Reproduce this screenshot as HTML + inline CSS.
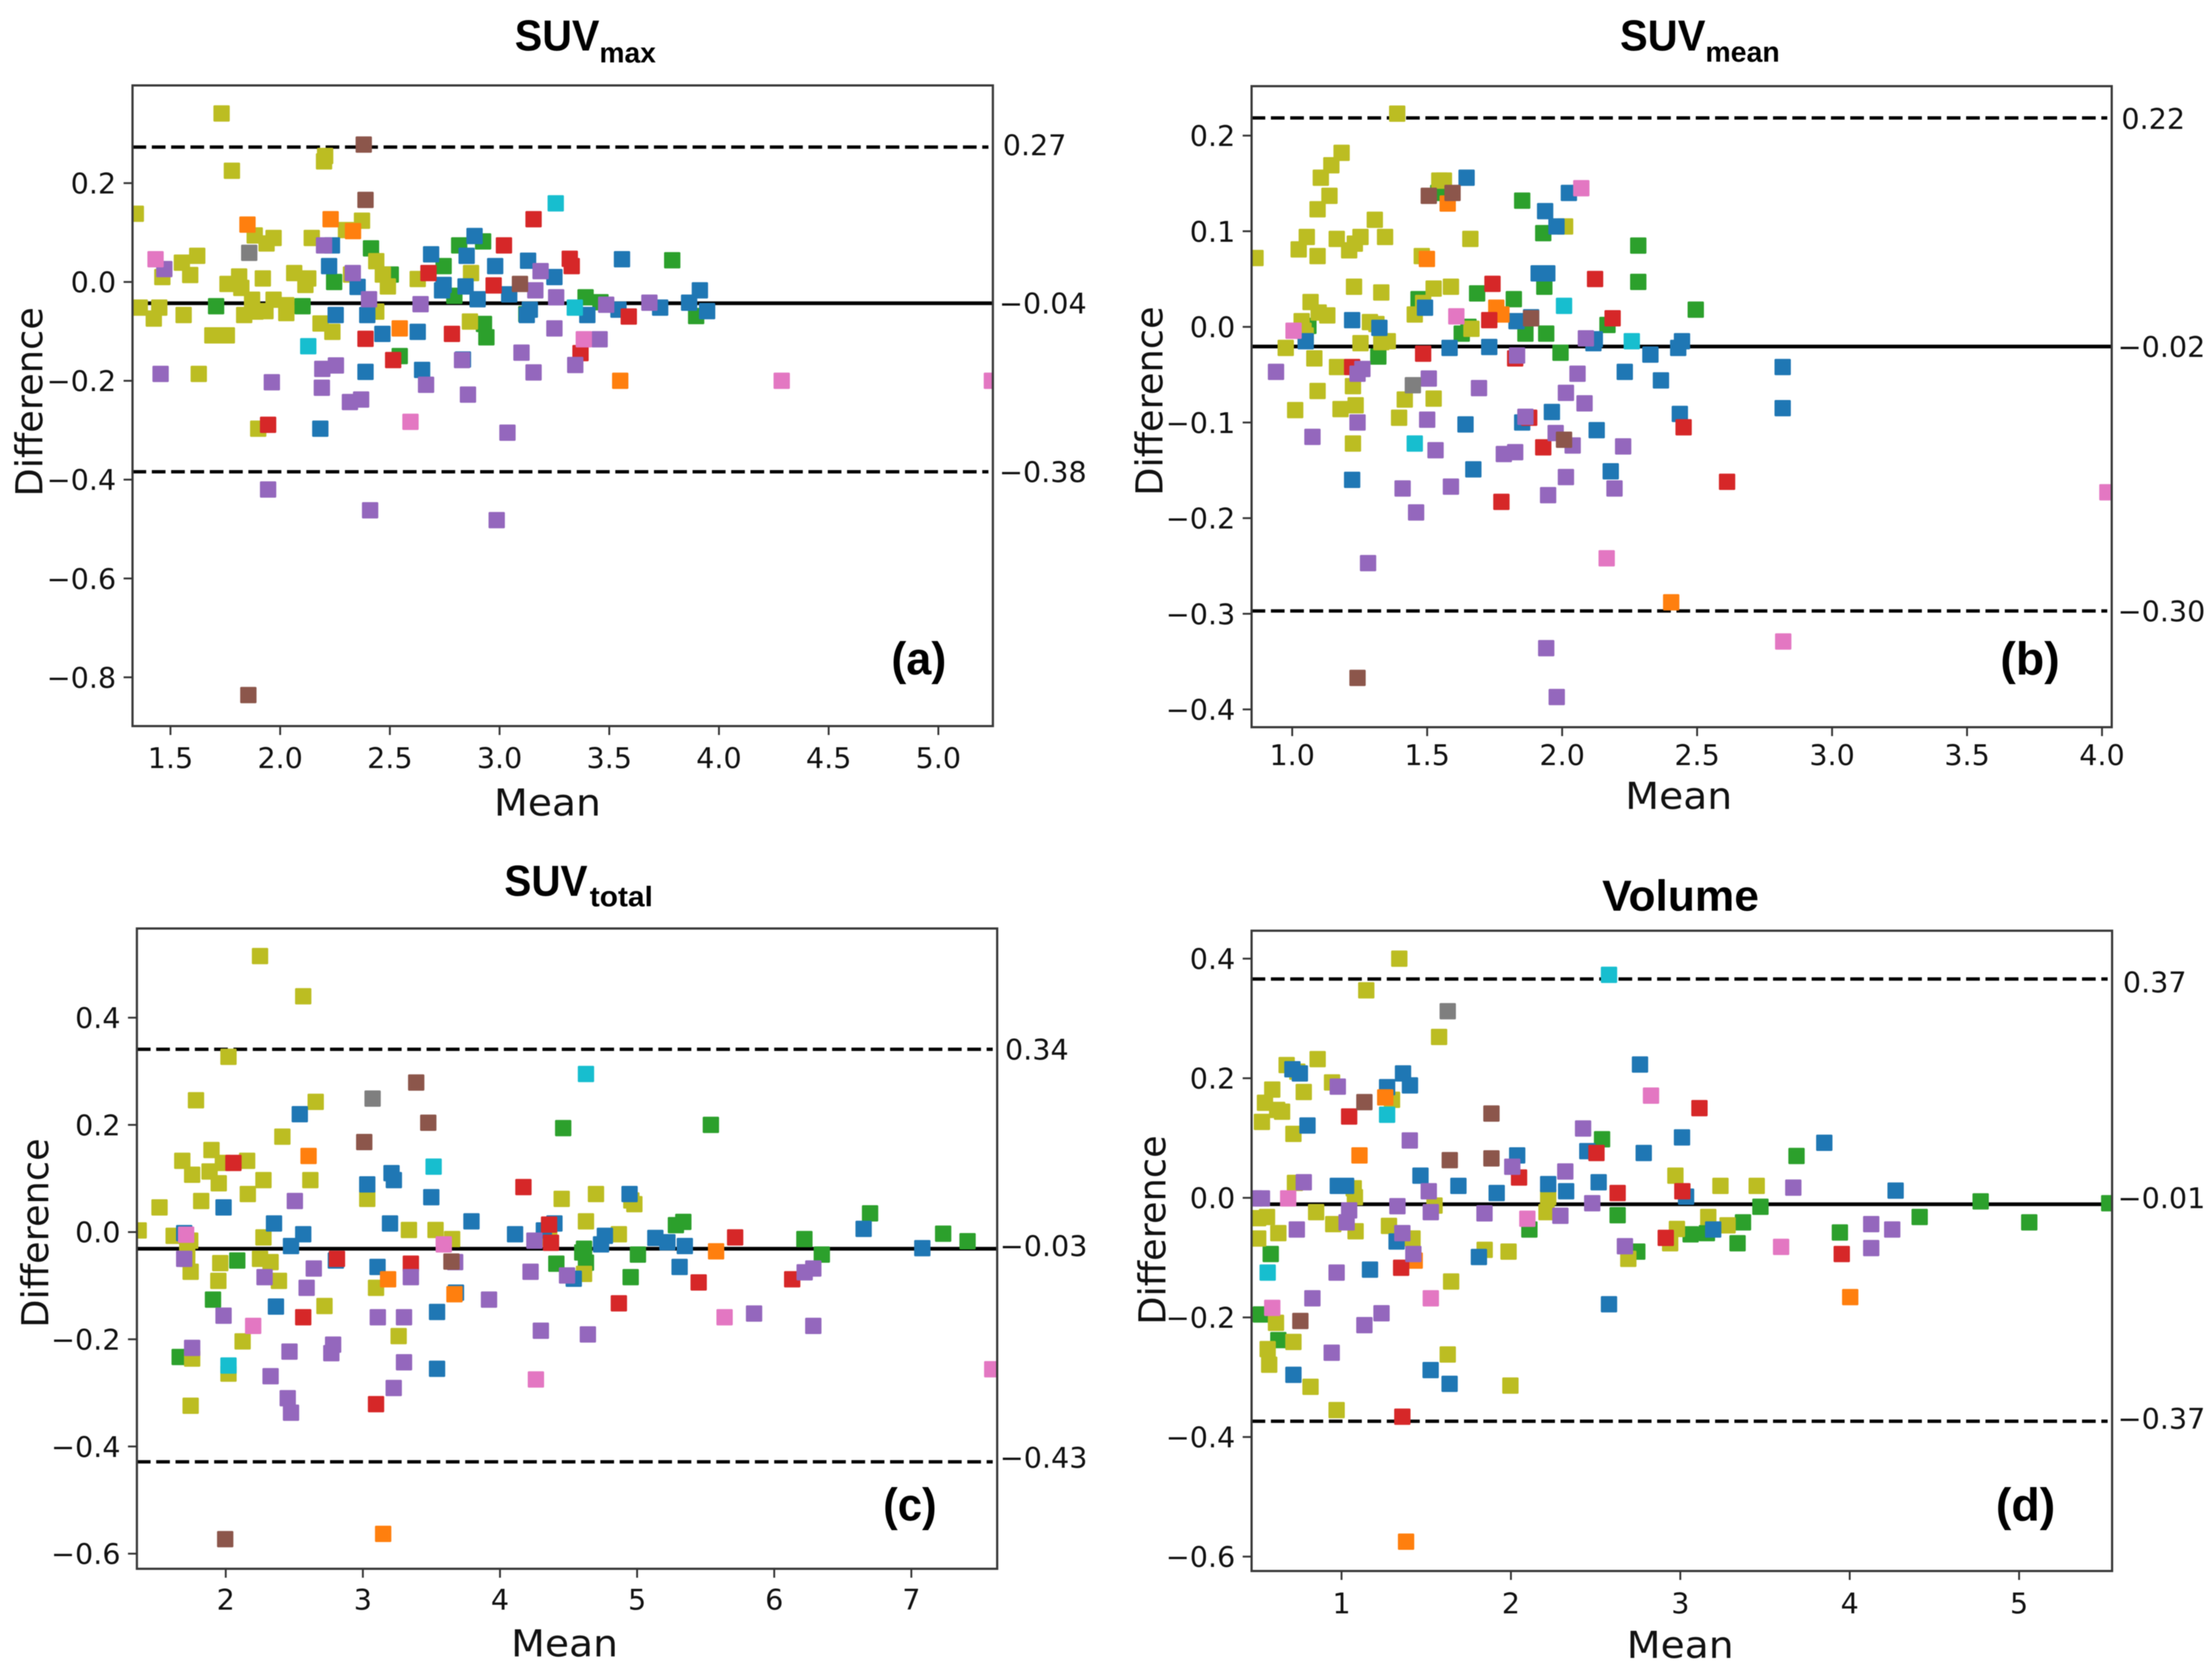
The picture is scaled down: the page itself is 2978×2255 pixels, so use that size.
<!DOCTYPE html>
<html lang="en">
<head>
<meta charset="utf-8">
<title>Bland-Altman plots</title>
<style>
html,body{margin:0;padding:0;background:#fff;width:2978px;height:2255px;overflow:hidden}
svg{display:block;filter:blur(.6px)}
.tick{font:38.5px "DejaVu Sans",sans-serif;fill:#111}
.axis{font:50px "DejaVu Sans",sans-serif;fill:#111}
.ttl{font-family:"Liberation Sans",sans-serif;font-weight:700;fill:#000}
</style>
</head>
<body>
<svg id="figure" xmlns="http://www.w3.org/2000/svg" width="2978" height="2255" viewBox="0 0 2978 2255">
<rect width="2978" height="2255" fill="#fff"/>

<text class="ttl" x="693" y="68" font-size="58" textLength="114" lengthAdjust="spacingAndGlyphs">SUV</text>
<text class="ttl" x="807" y="84" font-size="38" textLength="76" lengthAdjust="spacingAndGlyphs">max</text>
<text class="ttl" x="2181" y="68" font-size="58" textLength="115" lengthAdjust="spacingAndGlyphs">SUV</text>
<text class="ttl" x="2296" y="83" font-size="38" textLength="100" lengthAdjust="spacingAndGlyphs">mean</text>
<text class="ttl" x="679" y="1206" font-size="58" textLength="112" lengthAdjust="spacingAndGlyphs">SUV</text>
<text class="ttl" x="794" y="1220" font-size="38" textLength="85" lengthAdjust="spacingAndGlyphs">total</text>
<text class="ttl" x="2157" y="1226" font-size="58" textLength="211" lengthAdjust="spacingAndGlyphs">Volume</text>

<g id="plots"></g>

<text class="ttl" x="1200" y="908" font-size="62" textLength="74" lengthAdjust="spacingAndGlyphs">(a)</text>
<text class="ttl" x="2693" y="908" font-size="62" textLength="80" lengthAdjust="spacingAndGlyphs">(b)</text>
<text class="ttl" x="1189" y="2047" font-size="62" textLength="72" lengthAdjust="spacingAndGlyphs">(c)</text>
<text class="ttl" x="2687" y="2047" font-size="62" textLength="80" lengthAdjust="spacingAndGlyphs">(d)</text>
</svg>

<script>
// ---------- Panel A: SUVmax ----------
const aXTicks=['1.5','2.0','2.5','3.0','3.5','4.0','4.5','5.0'];
const aYTicks=['−0.8','−0.6','−0.4','−0.2','0.0','0.2'];
const aXLim=[1.327,5.2485];
const aYLim=[-0.8987,0.3977];
const aLimits=[0.273,-0.043,-0.384];
const aLimitLabels=['0.27','−0.04','−0.38'];
const aGreen=[[1.708,-0.049],[2.102,-0.049],[2.414,0.068],[2.246,0],[2.745,0.032],[2.816,0.074],[2.925,0.082],[2.504,0.015],[2.794,-0.028],[3.122,-0.065],[2.929,-0.085],[2.94,-0.112],[2.545,-0.15],[3.392,-0.031],[3.46,-0.041],[3.787,0.044],[3.896,-0.069]];
const aOlive=[[1.733,0.341],[1.78,0.225],[2.205,0.255],[2.2,0.244],[1.342,0.138],[2.373,0.124],[2.3,0.105],[1.884,0.094],[1.938,0.078],[1.97,0.089],[2.144,0.089],[1.622,0.053],[1.552,0.039],[1.59,0.014],[1.463,0.01],[1.813,0.011],[1.76,-0.004],[1.823,-0.012],[1.921,0.007],[2.064,0.018],[2.128,0.007],[2.115,-0.006],[2.323,0.015],[2.438,0.042],[2.468,0.015],[2.491,-0.009],[2.627,0.006],[2.87,0.018],[1.36,-0.052],[1.449,-0.052],[1.424,-0.074],[1.56,-0.067],[1.872,-0.036],[1.836,-0.067],[1.888,-0.06],[1.933,-0.059],[1.97,-0.036],[2.028,-0.047],[2.028,-0.063],[2.184,-0.084],[2.238,-0.101],[1.691,-0.108],[1.757,-0.108],[1.629,-0.186],[2.438,-0.06],[2.865,-0.08],[1.9,-0.297]];
const aBlue=[[2.236,0.074],[2.223,0.032],[2.353,-0.01],[2.688,0.056],[2.745,-0.006],[2.738,-0.017],[2.253,-0.067],[2.397,-0.067],[2.466,-0.105],[2.627,-0.101],[2.389,-0.182],[2.647,-0.178],[2.183,-0.297],[2.886,0.093],[2.85,0.053],[2.98,0.032],[3.13,0.043],[3.25,0.01],[3.558,0.046],[3.044,-0.025],[2.845,-0.009],[2.9,-0.035],[3.138,-0.056],[3.4,-0.067],[3.542,-0.056],[3.732,-0.052],[3.864,-0.042],[3.913,-0.017],[3.946,-0.059],[2.833,-0.157],[3.124,-0.067]];
const aOrange=[[1.851,0.116],[2.23,0.127],[2.332,0.103],[2.545,-0.094],[3.55,-0.2]];
const aRed=[[2.676,0.018],[2.389,-0.115],[2.783,-0.105],[2.515,-0.158],[1.945,-0.289],[3.155,0.127],[3.02,0.074],[3.32,0.047],[3.329,0.032],[2.973,-0.007],[3.589,-0.07],[3.369,-0.144]];
const aPurple=[[1.472,0.026],[2.2,0.074],[2.331,0.018],[2.405,-0.035],[2.64,-0.045],[1.455,-0.186],[1.962,-0.203],[2.192,-0.176],[2.254,-0.169],[2.19,-0.214],[2.318,-0.243],[2.369,-0.238],[2.665,-0.208],[2.829,-0.158],[3.187,0.022],[3.163,-0.017],[3.258,-0.031],[3.486,-0.046],[3.683,-0.042],[3.25,-0.094],[3.456,-0.116],[3.1,-0.143],[3.155,-0.183],[3.345,-0.168],[2.856,-0.228],[3.036,-0.305],[1.945,-0.42],[2.41,-0.462],[2.987,-0.482]];
const aBrown=[[2.381,0.278],[2.389,0.166],[3.093,-0.004],[1.855,-0.836]];
const aGray=[[1.859,0.059]];
const aPink=[[1.432,0.046],[2.594,-0.283],[3.384,-0.116],[4.286,-0.2],[5.244,-0.2]];
const aCyan=[[2.128,-0.13],[3.256,0.159],[3.343,-0.052]];

// ---------- Panel B: SUVmean ----------
const bXTicks=['1.0','1.5','2.0','2.5','3.0','3.5','4.0'];
const bYTicks=['−0.4','−0.3','−0.2','−0.1','0.0','0.1','0.2'];
const bXLim=[0.8495,4.036];
const bYLim=[-0.4186,0.2517];
const bLimits=[0.2185,-0.0205,-0.297];
const bLimitLabels=['0.22','−0.02','−0.30'];
const bGreen=[[1.852,0.132],[1.93,0.098],[2.282,0.085],[2.282,0.047],[1.934,0.042],[1.685,0.035],[1.821,0.029],[1.468,0.029],[1.541,0.14],[2.168,0.002],[1.628,-0.007],[1.653,0],[1.864,-0.007],[1.941,-0.007],[1.994,-0.027],[1.319,-0.031],[2.495,0.018],[1.06,0.001]];
const bOlive=[[1.389,0.223],[1.183,0.182],[1.145,0.169],[1.106,0.156],[1.138,0.137],[1.094,0.123],[1.306,0.112],[1.054,0.094],[1.024,0.081],[1.094,0.074],[1.165,0.092],[1.253,0.094],[1.232,0.087],[1.211,0.08],[1.344,0.094],[0.864,0.072],[1.66,0.092],[1.48,0.074],[1.545,0.153],[1.562,0.153],[2.011,0.105],[1.229,0.042],[1.33,0.036],[1.524,0.04],[1.588,0.042],[1.485,0.025],[1.454,0.013],[1.068,0.026],[1.098,0.015],[1.13,0.012],[1.035,0.006],[1.042,-0.004],[1.05,-0.009],[1.288,0.005],[1.312,0.003],[1.664,-0.002],[0.976,-0.022],[1.253,-0.017],[1.33,-0.016],[1.354,-0.015],[1.082,-0.033],[1.166,-0.042],[1.094,-0.067],[1.225,-0.062],[1.011,-0.087],[1.179,-0.086],[1.235,-0.082],[1.417,-0.076],[1.524,-0.075],[1.396,-0.095],[1.225,-0.122]];
const bBlue=[[1.646,0.156],[2.025,0.14],[1.937,0.121],[1.979,0.105],[1.913,0.056],[1.945,0.056],[1.222,0.007],[1.323,-0.001],[1.492,0.02],[1.05,-0.015],[1.583,-0.022],[1.73,-0.021],[1.831,0.006],[1.885,0.01],[2.121,-0.013],[2.116,-0.017],[2.444,-0.015],[2.43,-0.022],[2.327,-0.029],[2.232,-0.047],[2.366,-0.056],[1.962,-0.089],[2.436,-0.091],[1.852,-0.1],[1.642,-0.102],[2.128,-0.108],[1.671,-0.149],[2.18,-0.151],[1.222,-0.16],[2.817,-0.042],[2.817,-0.085]];
const bOrange=[[1.499,0.071],[1.756,0.02],[1.775,0.013],[1.576,0.129],[2.404,-0.288]];
const bRed=[[2.122,0.05],[1.742,0.045],[1.73,0.007],[2.187,0.009],[1.485,-0.028],[1.222,-0.042],[1.826,-0.033],[1.878,-0.095],[1.93,-0.126],[1.775,-0.183],[2.611,-0.162],[2.45,-0.105]];
const bPurple=[[2.088,-0.012],[1.833,-0.03],[0.94,-0.047],[1.26,-0.044],[1.242,-0.049],[1.506,-0.054],[1.692,-0.064],[2.057,-0.049],[2.014,-0.069],[2.083,-0.08],[1.242,-0.1],[1.5,-0.097],[1.864,-0.094],[1.075,-0.115],[1.976,-0.111],[1.531,-0.129],[2.039,-0.124],[2.226,-0.125],[1.784,-0.133],[1.826,-0.131],[1.588,-0.167],[1.409,-0.169],[2.014,-0.157],[1.948,-0.176],[2.194,-0.169],[1.459,-0.194],[1.281,-0.247],[1.941,-0.336],[1.98,-0.387]];
const bBrown=[[1.506,0.137],[1.594,0.14],[1.885,0.009],[2.007,-0.118],[1.242,-0.367]];
const bGray=[[1.447,-0.061]];
const bPink=[[2.071,0.145],[1.608,0.011],[1.005,-0.004],[2.165,-0.242],[2.819,-0.329],[4.02,-0.173]];
const bCyan=[[2.007,0.022],[1.454,-0.122],[2.258,-0.015]];

// ---------- Panel C: SUVtotal ----------
const cXTicks=['2','3','4','5','6','7'];
const cYTicks=['−0.6','−0.4','−0.2','0.0','0.2','0.4'];
const cXLim=[1.352,7.626];
const cYLim=[-0.6282,0.5664];
const cLimits=[0.341,-0.031,-0.4286];
const cLimitLabels=['0.34','−0.03','−0.43'];
const cGreen=[[2.084,-0.053],[1.907,-0.126],[1.664,-0.233],[4.461,0.194],[4.411,-0.059],[4.613,-0.031],[4.6,-0.038],[4.627,-0.057],[5.006,-0.042],[4.953,-0.084],[5.538,0.2],[5.337,0.019],[5.283,0.013],[6.22,-0.013],[6.347,-0.042],[6.699,0.035],[7.232,-0.003],[7.41,-0.017]];
const cOlive=[[2.25,0.515],[2.565,0.44],[2.02,0.327],[1.783,0.246],[2.656,0.243],[2.413,0.178],[1.896,0.153],[1.683,0.133],[1.979,0.129],[2.156,0.133],[1.755,0.107],[1.882,0.113],[1.949,0.091],[2.275,0.097],[2.617,0.097],[2.161,0.071],[1.821,0.058],[1.517,0.046],[3.032,0.062],[4.45,0.062],[4.7,0.071],[4.98,0.052],[4.958,0.059],[4.627,0.02],[1.365,0.003],[1.62,-0.007],[2.275,-0.01],[3.336,0.004],[3.53,0.004],[3.651,-0.013],[4.359,-0.011],[4.867,-0.004],[1.741,-0.016],[1.719,-0.035],[1.719,-0.05],[1.744,-0.074],[2.25,-0.05],[2.327,-0.056],[1.96,-0.058],[1.946,-0.091],[2.388,-0.091],[3.096,-0.104],[2.72,-0.138],[3.261,-0.194],[2.123,-0.204],[1.755,-0.236],[2.02,-0.264],[1.744,-0.324],[4.613,-0.078]];
const cBlue=[[2.54,0.22],[1.984,0.046],[3.032,0.089],[3.209,0.11],[3.226,0.097],[3.499,0.065],[2.352,0.016],[2.565,-0.004],[2.476,-0.026],[1.697,-0.002],[3.198,0.016],[3.792,0.02],[4.11,-0.004],[4.32,0.003],[4.397,0.016],[4.765,-0.007],[4.737,-0.023],[4.945,0.071],[5.133,-0.011],[2.803,-0.053],[3.107,-0.065],[3.679,-0.113],[4.538,-0.087],[2.366,-0.139],[3.541,-0.149],[3.541,-0.255],[5.221,-0.019],[5.348,-0.026],[5.31,-0.065],[6.652,0.006],[7.08,-0.03]];
const cOrange=[[2.604,0.142],[3.184,-0.088],[3.668,-0.116],[3.148,-0.563],[5.576,-0.036]];
const cRed=[[2.056,0.129],[4.171,0.084],[4.358,0.014],[4.372,-0.02],[2.811,-0.05],[3.35,-0.059],[2.565,-0.159],[4.867,-0.133],[3.096,-0.321],[5.715,-0.01],[5.449,-0.094],[6.131,-0.088]];
const cPurple=[[2.504,0.058],[4.251,-0.016],[1.697,-0.05],[2.642,-0.068],[2.283,-0.084],[2.59,-0.104],[3.35,-0.084],[3.673,-0.056],[4.223,-0.074],[4.489,-0.081],[3.92,-0.126],[1.984,-0.156],[3.109,-0.159],[3.3,-0.159],[4.298,-0.184],[4.641,-0.191],[1.755,-0.216],[2.465,-0.223],[2.783,-0.21],[2.77,-0.226],[3.3,-0.243],[2.327,-0.269],[3.225,-0.291],[2.452,-0.31],[2.476,-0.337],[6.285,-0.068],[6.222,-0.075],[5.853,-0.152],[6.285,-0.175]];
const cBrown=[[3.389,0.279],[3.477,0.204],[3.01,0.168],[3.646,-0.055],[1.996,-0.573]];
const cGray=[[3.071,0.249]];
const cPink=[[1.711,-0.005],[3.59,-0.023],[2.2,-0.175],[4.262,-0.275],[5.638,-0.159],[7.59,-0.256]];
const cCyan=[[4.627,0.295],[3.516,0.122],[2.02,-0.249]];

// ---------- Panel D: Volume ----------
const dXTicks=['1','2','3','4','5'];
const dYTicks=['−0.6','−0.4','−0.2','0.0','0.2','0.4'];
const dXLim=[0.469,5.549];
const dYLim=[-0.6241,0.4467];
const dLimits=[0.366,-0.0108,-0.3737];
const dLimitLabels=['0.37','−0.01','−0.37'];
const dGreen=[[0.524,-0.195],[0.582,-0.094],[0.627,-0.238],[2.109,-0.053],[2.538,0.098],[2.63,-0.029],[2.746,-0.09],[3.473,-0.015],[3.686,0.07],[3.37,-0.041],[3.338,-0.076],[3.061,-0.061],[3.157,-0.059],[3.942,-0.058],[4.413,-0.032],[4.773,-0.006],[5.06,-0.041],[5.532,-0.009]];
const dOlive=[[1.341,0.4],[1.146,0.347],[1.576,0.269],[0.859,0.232],[0.676,0.222],[0.739,0.211],[0.944,0.193],[0.591,0.181],[0.548,0.159],[0.62,0.147],[0.649,0.144],[0.53,0.127],[0.777,0.177],[0.716,0.107],[1.298,0.164],[0.725,0.025],[1.072,0.016],[1.079,0.001],[0.85,-0.024],[0.951,-0.044],[1.083,-0.056],[1.28,-0.047],[0.508,-0.034],[0.56,-0.032],[0.508,-0.068],[0.627,-0.059],[1.419,-0.068],[1.549,-0.013],[2.22,0.001],[2.21,-0.024],[1.845,-0.087],[1.986,-0.09],[1.647,-0.14],[0.613,-0.209],[0.716,-0.241],[0.564,-0.253],[0.573,-0.279],[1.627,-0.262],[0.817,-0.316],[1.997,-0.314],[0.971,-0.355],[2.971,0.037],[3.237,0.02],[3.451,0.02],[3.165,-0.032],[3.279,-0.046],[2.98,-0.052],[2.94,-0.076],[2.693,-0.102]];
const dBlue=[[0.754,0.208],[0.71,0.215],[0.799,0.121],[1.269,0.185],[1.363,0.208],[1.404,0.188],[0.978,0.02],[1.027,0.02],[1.466,0.037],[1.69,0.02],[1.916,0.008],[2.037,0.071],[2.22,0.023],[2.326,0.011],[2.451,0.078],[2.518,0.026],[2.762,0.223],[2.784,0.075],[3.01,0.101],[3.85,0.092],[3.034,0.002],[4.271,0.012],[3.194,-0.053],[1.168,-0.12],[1.325,-0.073],[1.811,-0.099],[2.579,-0.178],[0.716,-0.296],[1.526,-0.288],[1.638,-0.311]];
const dOrange=[[1.106,0.071],[1.258,0.168],[1.432,-0.105],[1.381,-0.575],[4.003,-0.166]];
const dRed=[[1.045,0.136],[2.048,0.034],[2.505,0.075],[2.63,0.008],[1.352,-0.117],[1.359,-0.366],[3.113,0.15],[3.012,0.011],[2.914,-0.067],[3.953,-0.094]];
const dPurple=[[0.53,-0.001],[0.486,-0.001],[0.777,0.026],[0.736,-0.053],[0.978,0.186],[1.045,-0.021],[1.03,-0.041],[1.33,-0.014],[1.359,-0.059],[1.424,-0.094],[1.515,0.011],[1.527,-0.024],[1.403,0.096],[1.844,-0.026],[2.008,0.052],[2.321,0.044],[2.292,-0.03],[2.426,0.116],[2.48,-0.009],[2.673,-0.081],[0.971,-0.125],[0.828,-0.168],[1.236,-0.193],[1.135,-0.213],[0.942,-0.259],[3.667,0.017],[4.127,-0.044],[4.251,-0.053],[4.127,-0.084]];
const dBrown=[[1.135,0.16],[1.639,0.063],[1.885,0.141],[1.885,0.066],[0.757,-0.206]];
const dGray=[[1.627,0.312]];
const dPink=[[0.685,-0.001],[0.591,-0.184],[1.527,-0.168],[2.097,-0.035],[2.827,0.171],[3.595,-0.082]];
const dCyan=[[2.579,0.373],[1.269,0.139],[0.564,-0.125]];

// Draw order and colours of the series
const seriesNames=['green','olive','blue','orange','red','purple','brown','gray','pink','cyan'];
const seriesColors=['#2ca02c','#bcbd22','#1f77b4','#ff7f0e','#d62728','#9467bd','#8c564b','#7f7f7f','#e377c2','#17becf'];

const NS='http://www.w3.org/2000/svg';
const plots=document.getElementById('plots');

function make(tag,attrs,parent,text){
  const el=document.createElementNS(NS,tag);
  for(const k in attrs)el.setAttribute(k,attrs[k]);
  if(text!==undefined)el.textContent=text;
  parent.appendChild(el);
  return el;
}
function tickValue(s){return parseFloat(s.replace('−','-'));}

function drawPanel(p){
  const g=make('g',{},plots);
  
  
  const xOf=v=>p.L+(v-p.xLim[0])/(p.xLim[1]-p.xLim[0])*(p.R-p.L);
  const yOf=v=>p.B-(v-p.yLim[0])/(p.yLim[1]-p.yLim[0])*(p.B-p.T);

  const defs=make('defs',{},g);
  const clip=make('clipPath',{id:'clip-'+p.id},defs);
  make('rect',{x:p.L,y:p.T,width:p.R-p.L,height:p.B-p.T},clip);

  // reference lines
  p.limits.forEach((v,i)=>{
    const line=make('line',{x1:p.L,x2:i===1?p.R:p.R-6,y1:yOf(v),y2:yOf(v),stroke:'#000','stroke-width':i===1?5:4.5,'stroke-dasharray':i===1?'none':'18.4 7.6'},g);
    
    
    const label=make('text',{class:'tick',x:p.limitX[i],y:yOf(v)+14+p.limitDy[i]},g,p.limitLabels[i]);
    
    
  });

  // markers
  const marks=make('g',{'clip-path':'url(#clip-'+p.id+')'},g);
  
  
  p.series.forEach((pts,si)=>{
    pts.forEach(pt=>{
      const r=make('rect',{x:xOf(pt[0])-11,y:yOf(pt[1])-11,width:22,height:22,rx:1.5,fill:seriesColors[si]},marks);
      
      
    });
  });

  // frame
  const frame=make('rect',{x:p.L,y:p.T,width:p.R-p.L,height:p.B-p.T,fill:'none',stroke:'#3a3a3a','stroke-width':3},g);
  
  

  // x ticks
  p.xTicks.forEach(t=>{
    const x=xOf(tickValue(t));
    const tk=make('line',{x1:x,x2:x,y1:p.B,y2:p.B+12,stroke:'#333','stroke-width':2.5},g);
    
    
    const lb=make('text',{class:'tick',x:x,y:p.xTickY,'text-anchor':'middle'},g,t);
    
    
  });
  // y ticks
  p.yTicks.forEach(t=>{
    const y=yOf(tickValue(t));
    const tk=make('line',{x1:p.L-12,x2:p.L,y1:y,y2:y,stroke:'#333','stroke-width':2.5},g);
    
    
    const lb=make('text',{class:'tick',x:p.L-22,y:y+14,'text-anchor':'end'},g,t);
    
    
  });

  // axis titles
  const xt=make('text',{class:'axis',x:p.xTitleX,y:p.xTitleY,'text-anchor':'middle',textLength:144,lengthAdjust:'spacingAndGlyphs'},g,'Mean');
  
  
  const yt=make('text',{class:'axis','text-anchor':'middle',textLength:255,lengthAdjust:'spacingAndGlyphs',transform:'translate('+p.yTitleX+','+p.yTitleY+') rotate(-90)'},g,'Difference');
  
  
}

drawPanel({id:'a',L:178.4,R:1336.7,T:115,B:977.5,xLim:aXLim,yLim:aYLim,xTicks:aXTicks,yTicks:aYTicks,limits:aLimits,limitLabels:aLimitLabels,limitX:[1350,1345,1345],limitDy:[-3,0,0],xTickY:1034,xTitleX:737,xTitleY:1098,yTitleX:57,yTitleY:541,series:[aGreen,aOlive,aBlue,aOrange,aRed,aPurple,aBrown,aGray,aPink,aCyan]});
drawPanel({id:'b',L:1685,R:2843,T:116,B:979,xLim:bXLim,yLim:bYLim,xTicks:bXTicks,yTicks:bYTicks,limits:bLimits,limitLabels:bLimitLabels,limitX:[2856,2851,2851],limitDy:[1,0,0],xTickY:1030,xTitleX:2260,xTitleY:1089,yTitleX:1565,yTitleY:540,series:[bGreen,bOlive,bBlue,bOrange,bRed,bPurple,bBrown,bGray,bPink,bCyan]});
drawPanel({id:'c',L:184.3,R:1342.5,T:1250,B:2112,xLim:cXLim,yLim:cYLim,xTicks:cXTicks,yTicks:cYTicks,limits:cLimits,limitLabels:cLimitLabels,limitX:[1353,1346,1346],limitDy:[0,-4,-6],xTickY:2167,xTitleX:760,xTitleY:2230,yTitleX:65,yTitleY:1660,series:[cGreen,cOlive,cBlue,cOrange,cRed,cPurple,cBrown,cGray,cPink,cCyan]});
drawPanel({id:'d',L:1685,R:2843.5,T:1253,B:2115,xLim:dXLim,yLim:dYLim,xTicks:dXTicks,yTicks:dYTicks,limits:dLimits,limitLabels:dLimitLabels,limitX:[2858,2851,2851],limitDy:[4,-9,-4],xTickY:2172,xTitleX:2262,xTitleY:2232,yTitleX:1569,yTitleY:1656,series:[dGreen,dOlive,dBlue,dOrange,dRed,dPurple,dBrown,dGray,dPink,dCyan]});
</script>
</body>
</html>
